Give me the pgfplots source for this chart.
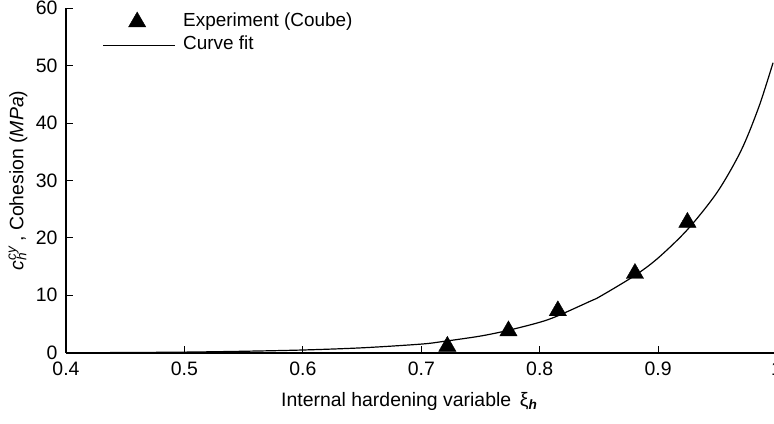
\documentclass[border=0pt]{standalone}
\usepackage{fontspec}
\setmainfont{Liberation Sans}
\usepackage{pgfplots}
\pgfplotsset{compat=1.18}
\pgfplotsset{
  trileg/.style={legend image code/.code={\path[use as bounding box, draw=none, fill=none] (0bp,-5bp) rectangle (72bp,5bp); \draw[mark repeat=1,mark phase=1,##1] plot coordinates {(34bp,-2bp)};}},
  lineleg/.style={legend image code/.code={\path[use as bounding box, draw=none, fill=none] (0bp,-5bp) rectangle (72bp,5bp); \draw[##1] (0bp,-2bp) -- (72bp,-2bp);}},
}
\begin{document}
\begin{tikzpicture}
\begin{axis}[
  at={(0,0)}, anchor=south west,
  scale only axis, width=710.6bp, height=344.5bp,
  xmin=0.4, xmax=1.0, ymin=0, ymax=60,
  axis x line*=bottom, axis y line*=left,
  xtick={0.4,0.5,0.6,0.7,0.8,0.9,1.0},
  xticklabels={0.4,0.5,0.6,0.7,0.8,0.9,1},
  ytick={0,10,20,30,40,50,60},
  tick align=inside, major tick length=7bp,
  every tick/.style={black, line width=1bp},
  axis line style={black, line width=1.6bp},
  /pgf/number format/assume math mode=true,
  tick label style={font=\fontsize{19.5}{22}\selectfont},
  xticklabel style={yshift=-6bp},
  yticklabel style={xshift=-5bp},
  label style={font=\fontsize{19.5}{22}\selectfont},
  xlabel={Internal hardening variable \,ξ\textsubscript{\textbf{\textit{h}}}},
  ylabel={\textit{c}\rlap{\textsuperscript{\textit{cy}}}\textsubscript{\textit{h}}\ \ , Cohesion (\textit{MPa})},
  xlabel style={at={(axis description cs:0.5,0)}, anchor=base, yshift=-54bp, xshift=-12bp},
  ylabel style={at={(axis description cs:0,0.5)}, anchor=center, yshift=48bp},
  legend style={at={(axis description cs:0,1)}, anchor=north west, draw=none, fill=none,
    font=\fontsize{19}{21}\selectfont, xshift=34bp, yshift=0bp, row sep=4bp,
    /tikz/every even column/.append style={column sep=0bp},
    nodes={inner xsep=8bp}},
  legend cell align=left,
]
\addplot[only marks, mark=triangle*, mark size=10bp, black, trileg]
  coordinates {(0.7220,1.1) (0.7736,3.8) (0.8153,7.3) (0.8804,13.8) (0.9247,22.7)};
\addlegendentry{Experiment (Coube)}
\addplot[black, line width=1.2bp, smooth,
  lineleg]
  coordinates {(0.414,0.0) (0.45,0.03) (0.50,0.1) (0.55,0.25) (0.60,0.47) (0.65,0.85)
   (0.70,1.5) (0.72,2.0) (0.75,2.9) (0.7736,3.9) (0.80,5.3) (0.815,6.4) (0.843,9.0)
   (0.851,9.8) (0.88,13.4) (0.90,16.5) (0.925,21.5) (0.95,28.0) (0.97,35.2)
   (0.985,42.8) (0.997,50.5)};
\addlegendentry{Curve fit}
\end{axis}
\pgfresetboundingbox
\path (-66bp,-71.3bp) rectangle (708bp,352.7bp);
\end{tikzpicture}
\end{document}
